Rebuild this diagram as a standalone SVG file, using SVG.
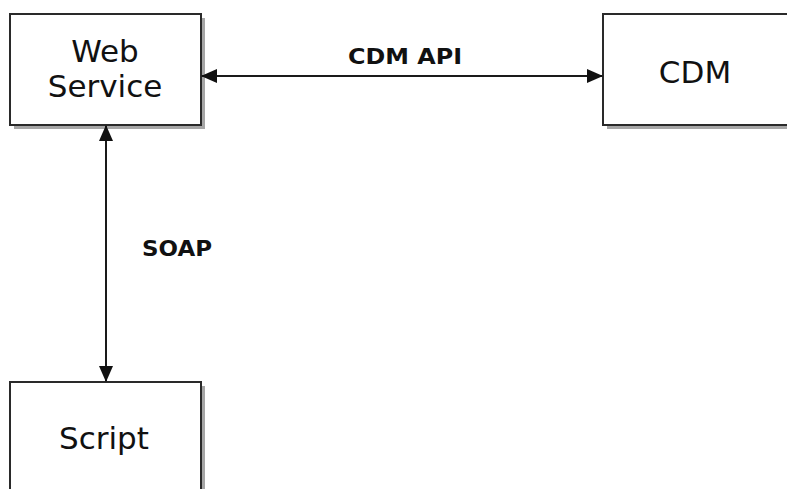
<svg xmlns="http://www.w3.org/2000/svg" width="787" height="489" viewBox="0 0 787 489">
  <defs>
    <marker id="ah" markerUnits="userSpaceOnUse" markerWidth="16" markerHeight="14" viewBox="0 0 16 14" refX="15" refY="7" orient="auto-start-reverse">
      <path d="M0,0 L16,7 L0,14 Z" fill="#111"/>
    </marker>
  </defs>
  <style>
    .shadow { fill: #a6a6a6; }
    .box { fill: #ffffff; stroke: #2a2a2a; stroke-width: 2; }
    .node { font-family: "DejaVu Sans", Verdana, sans-serif; font-size: 31px; fill: #111; text-anchor: middle; }
    .lbl { font-family: "DejaVu Sans", Verdana, sans-serif; font-size: 22px; font-weight: bold; fill: #111; }
    .conn { stroke: #1a1a1a; stroke-width: 2; fill: none; }
  </style>
  <rect width="787" height="489" fill="#ffffff"/>

  <g id="web-service">
    <rect class="shadow" x="14" y="18" width="191" height="111"/>
    <rect class="box" x="10" y="14" width="191" height="111"/>
    <text class="node" x="105" y="62">Web</text>
    <text class="node" x="105" y="97">Service</text>
  </g>

  <g id="cdm">
    <rect class="shadow" x="607" y="18" width="200" height="111"/>
    <rect class="box" x="603" y="14" width="200" height="111"/>
    <text class="node" x="695" y="83">CDM</text>
  </g>

  <g id="script">
    <rect class="shadow" x="14" y="386" width="191" height="120"/>
    <rect class="box" x="10" y="382" width="191" height="120"/>
    <text class="node" x="104" y="449">Script</text>
  </g>

  <g id="connectors">
    <line class="conn" x1="202" y1="76" x2="602" y2="76" marker-start="url(#ah)" marker-end="url(#ah)"/>
    <text class="lbl" x="348" y="64" textLength="114" lengthAdjust="spacingAndGlyphs">CDM API</text>
    <line class="conn" x1="106" y1="126" x2="106" y2="381" marker-start="url(#ah)" marker-end="url(#ah)"/>
    <text class="lbl" x="142" y="256" textLength="70" lengthAdjust="spacingAndGlyphs">SOAP</text>
  </g>
</svg>
